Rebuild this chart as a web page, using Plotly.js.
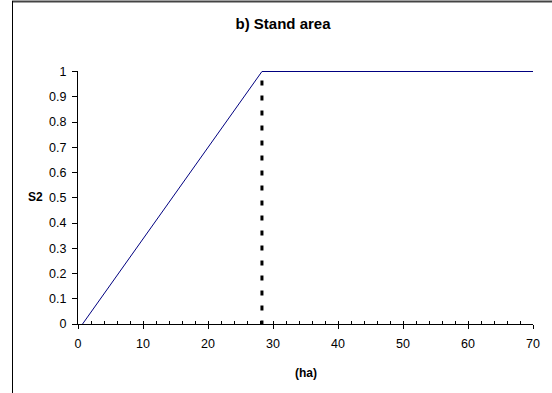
<!DOCTYPE html>
<html><head><meta charset="utf-8">
<script src="https://cdn.plot.ly/plotly-3.0.1.min.js"></script>
<style>html,body{margin:0;padding:0;background:#fff;}#chart{width:552px;height:393px;}</style>
</head><body><div id="chart"></div>
<script>
// Data
var areaHa = [0.7, 28.3, 70];
var s2Value = [0, 1, 1];
var thresholdX = [28.3, 28.3];
var thresholdY = [0.964, 0];
var xTickVals = [0, 10, 20, 30, 40, 50, 60, 70];
var yTickVals = [0, 0.1, 0.2, 0.3, 0.4, 0.5, 0.6, 0.7, 0.8, 0.9, 1];
var yTickText = ['0', '0.1', '0.2', '0.3', '0.4', '0.5', '0.6', '0.7', '0.8', '0.9', '1'];

var font = 'Liberation Sans, Arial, sans-serif';
var plotH = 253, plotW = 455, mL = 78, mT = 71;

var traces = [
  {x: areaHa, y: s2Value, mode: 'lines', line: {color: '#000080', width: 1}, hoverinfo: 'skip'},
  {x: thresholdX, y: thresholdY, mode: 'lines', line: {color: '#000000', width: 3, dash: '5px,10px'}, hoverinfo: 'skip'},
  {x: [], y: [], xaxis: 'x2', yaxis: 'y', mode: 'lines', hoverinfo: 'skip'}
];

var layout = {
  width: 552, height: 393,
  margin: {l: mL, r: 19, t: mT, b: 69},
  paper_bgcolor: '#ffffff', plot_bgcolor: '#ffffff',
  showlegend: false,
  font: {family: font, size: 12.5, color: '#000'},
  title: {text: '<b>b) Stand area</b>', font: {family: font, size: 15, color: '#000'},
          xref: 'container', yref: 'container', x: 283/552, y: 1 - 24/393, xanchor: 'center', yanchor: 'middle'},
  xaxis: {range: [0, 70], tickvals: xTickVals, ticks: 'outside', ticklen: 4, tickcolor: '#000',
          showline: true, linecolor: '#000', linewidth: 1, showgrid: false, zeroline: false,
          ticklabelstandoff: 4,
          tickfont: {family: font, size: 12.5, color: '#000'}, fixedrange: true},
  xaxis2: {range: [0, 70], overlaying: 'x', anchor: 'y', side: 'bottom', dtick: 2, tick0: 0,
           ticks: 'inside', ticklen: 3, tickcolor: '#000', showticklabels: false,
           showline: false, showgrid: false, zeroline: false, fixedrange: true},
  yaxis: {range: [0, 1.002], tickvals: yTickVals, ticktext: yTickText, ticks: 'outside', ticklen: 5, tickcolor: '#000',
          showline: true, linecolor: '#000', linewidth: 1, showgrid: false, zeroline: false,
          ticklabelstandoff: 3,
          tickfont: {family: font, size: 12.5, color: '#000'}, fixedrange: true},
  annotations: [
    {text: '<b>S2</b>', xref: 'paper', yref: 'paper', x: (35 - mL) / plotW, y: (324 - 197) / plotH,
     xanchor: 'center', yanchor: 'middle', showarrow: false, font: {family: font, size: 12, color: '#000'}},
    {text: '<b>(ha)</b>', xref: 'paper', yref: 'paper', x: (306 - mL) / plotW, y: -(373 - 324) / plotH,
     xanchor: 'center', yanchor: 'middle', showarrow: false, font: {family: font, size: 12, color: '#000'}}
  ],
  shapes: [
    {type: 'line', xref: 'paper', yref: 'paper', x0: (12 - mL) / plotW, x1: 1.1, y0: 1 + (mT - 1.5) / plotH, y1: 1 + (mT - 1.5) / plotH,
     line: {color: '#444', width: 2}, layer: 'below'},
    {type: 'line', xref: 'paper', yref: 'paper', x0: (12.5 - mL) / plotW, x1: (12.5 - mL) / plotW, y0: -0.6, y1: 1 + (mT - 1) / plotH,
     line: {color: '#000', width: 1}, layer: 'below'}
  ]
};

Plotly.newPlot('chart', traces, layout, {staticPlot: true, displayModeBar: false});
</script></body></html>
